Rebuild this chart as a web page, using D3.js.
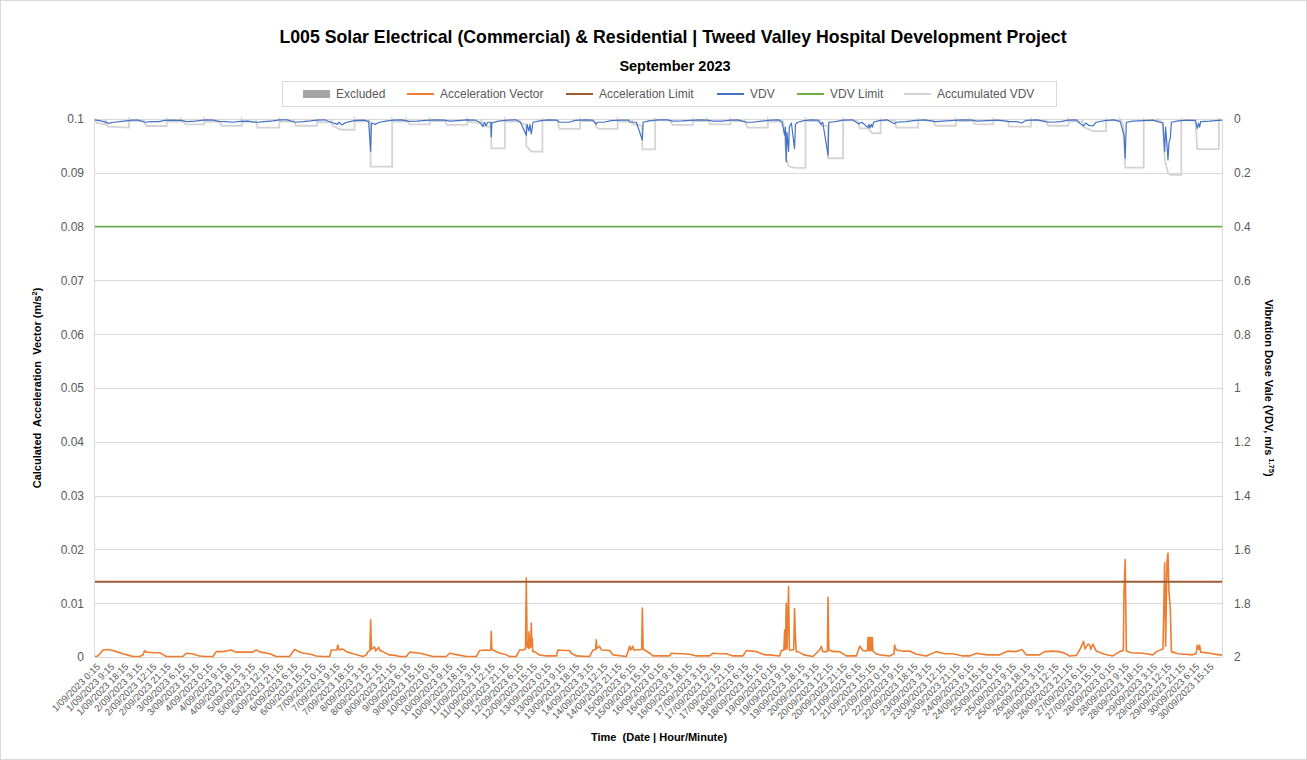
<!DOCTYPE html>
<html><head><meta charset="utf-8">
<script src="https://cdn.jsdelivr.net/npm/d3@7"></script>
<style>
html,body{margin:0;padding:0;background:#fff;}
svg{display:block;font-family:"Liberation Sans",Arial,sans-serif;}
</style></head><body>
<svg id="chart" width="1307" height="760"></svg>
<script>
// ---------------- DATA ----------------
const chartTitle = "L005 Solar Electrical (Commercial) & Residential | Tweed Valley Hospital Development Project";
const chartSubtitle = "September 2023";
const xAxisTitle = "Time  (Date | Hour/Minute)";
const leftAxisTitle = "Calculated  Acceleration  Vector (m/s";
const rightAxisTitle = "Vibration Dose Vale (VDV, m/s ";
const seriesNames = ["Excluded", "Acceleration Vector", "Acceleration Limit", "VDV", "VDV Limit", "Accumulated VDV"];
const leftTicks = [0, 0.01, 0.02, 0.03, 0.04, 0.05, 0.06, 0.07, 0.08, 0.09, 0.1];
const rightTicks = [0, 0.2, 0.4, 0.6, 0.8, 1, 1.2, 1.4, 1.6, 1.8, 2];
const xTickLabels = [
 "1/09/2023 0:15","1/09/2023 9:15","1/09/2023 18:15","2/09/2023 3:15","2/09/2023 12:15","2/09/2023 21:15","3/09/2023 6:15","3/09/2023 15:15",
 "4/09/2023 0:15","4/09/2023 9:15","4/09/2023 18:15","5/09/2023 3:15","5/09/2023 12:15","5/09/2023 21:15","6/09/2023 6:15","6/09/2023 15:15",
 "7/09/2023 0:15","7/09/2023 9:15","7/09/2023 18:15","8/09/2023 3:15","8/09/2023 12:15","8/09/2023 21:15","9/09/2023 6:15","9/09/2023 15:15",
 "10/09/2023 0:15","10/09/2023 9:15","10/09/2023 18:15","11/09/2023 3:15","11/09/2023 12:15","11/09/2023 21:15","12/09/2023 6:15","12/09/2023 15:15",
 "13/09/2023 0:15","13/09/2023 9:15","13/09/2023 18:15","14/09/2023 3:15","14/09/2023 12:15","14/09/2023 21:15","15/09/2023 6:15","15/09/2023 15:15",
 "16/09/2023 0:15","16/09/2023 9:15","16/09/2023 18:15","17/09/2023 3:15","17/09/2023 12:15","17/09/2023 21:15","18/09/2023 6:15","18/09/2023 15:15",
 "19/09/2023 0:15","19/09/2023 9:15","19/09/2023 18:15","20/09/2023 3:15","20/09/2023 12:15","20/09/2023 21:15","21/09/2023 6:15","21/09/2023 15:15",
 "22/09/2023 0:15","22/09/2023 9:15","22/09/2023 18:15","23/09/2023 3:15","23/09/2023 12:15","23/09/2023 21:15","24/09/2023 6:15","24/09/2023 15:15",
 "25/09/2023 0:15","25/09/2023 9:15","25/09/2023 18:15","26/09/2023 3:15","26/09/2023 12:15","26/09/2023 21:15","27/09/2023 6:15","27/09/2023 15:15",
 "28/09/2023 0:15","28/09/2023 9:15","28/09/2023 18:15","29/09/2023 3:15","29/09/2023 12:15","29/09/2023 21:15","30/09/2023 6:15","30/09/2023 15:15"
];
const timeDomainHours = [0.25, 720]; // hours since 1/09/2023 0:00
const accelerationLimit = 0.014;
const vdvLimit = 0.4;

// Acceleration Vector (m/s²): [hours since 1/09 0:00, value]
const accelerationVector = [
 [0.25,0.0001],[2,0.0002],[4,0.0008],[5.3,0.0013],[8,0.0014],[11.7,0.0012],[13.8,0.001],[18,0.0006],[22,0.0003],[24.5,0.0001],
 [28.7,0.0001],[31,0.0004],[31.9,0.0012],[33,0.0009],[38,0.0008],[41.5,0.0008],[44,0.0004],[45.8,0.0001],[52,0.0001],[56.4,0.0001],
 [58.5,0.0007],[62,0.0006],[67,0.0002],[71,0.0001],[75.6,0.0001],[77.7,0.001],[82,0.001],[87.3,0.0013],[90,0.0009],[96,0.0009],
 [101.1,0.0009],[103.2,0.0013],[106,0.0009],[112,0.0006],[116,0.0001],[118.1,0.0001],[124.5,0.0001],[127.7,0.0014],[132,0.0008],[138,0.0005],
 [141.6,0.0002],[145.8,0.0001],[150.1,0.0001],[151.2,0.0013],[154.5,0.0013],[155.4,0.0022],[156,0.0013],[158,0.0015],[159,0.0014],[160.7,0.001],
 [165,0.0006],[171.4,0.0001],[173.5,0.0004],[174.6,0.001],[175.8,0.0012],[176.3,0.0069],[176.8,0.0014],[178.8,0.0019],[179.5,0.0011],[181.5,0.0018],
 [182.2,0.0012],[184.1,0.001],[188,0.0004],[192,0.0003],[194.8,0.0001],[199,0.0001],[201.2,0.0009],[208,0.0007],[216.1,0.0001],[224.6,0.0001],
 [226.7,0.0007],[232,0.0004],[237.4,0.0001],[243.8,0.0001],[245.9,0.0012],[250.2,0.0013],[252.3,0.0012],[253,0.0013],[253.3,0.0048],[253.7,0.0014],
 [258,0.0008],[262.9,0.0004],[265,0.0001],[269.3,0.0001],[271.4,0.0013],[273.6,0.0013],[275.2,0.0015],[275.7,0.0147],[276.2,0.002],[277.1,0.0016],
 [277.4,0.0047],[277.8,0.0017],[278.5,0.0018],[278.9,0.0063],[279.2,0.002],[279.5,0.0035],[279.8,0.001],[281,0.001],[284,0.0004],[288.4,0.0002],
 [294.9,0.0002],[295.9,0.0013],[300,0.0012],[303.4,0.0012],[304.4,0.0007],[307.6,0.0002],[316.1,0.0001],[318.3,0.0013],[320,0.0014],[320.4,0.0032],
 [320.8,0.0016],[322.5,0.002],[323.6,0.0013],[328.9,0.0012],[331,0.0004],[339.6,0.0001],[341.7,0.002],[342.3,0.0013],[343.8,0.002],[344.3,0.0013],
 [346,0.0013],[349.4,0.0014],[349.8,0.0091],[350.3,0.0015],[351.3,0.0013],[354.5,0.0007],[356.6,0.0002],[367.2,0.0002],[368.3,0.0007],[375,0.0006],
 [380,0.0005],[384.3,0.0002],[392.8,0.0002],[394.9,0.0007],[400,0.0006],[403.5,0.0006],[407.7,0.0002],[414.1,0.0002],[416.2,0.0012],[420,0.0011],
 [422.6,0.001],[428,0.0004],[431.1,0.0004],[437.5,0.0002],[438.6,0.0012],[440.2,0.0013],[440.7,0.005],[441.2,0.0014],[441.7,0.01],[442.2,0.0015],
 [443.2,0.0131],[443.7,0.0013],[444.3,0.0013],[445.6,0.0013],[446.5,0.0014],[447,0.009],[447.6,0.0035],[448.1,0.001],[449.2,0.001],[453,0.0004],
 [458.8,0.0001],[463,0.0013],[464.1,0.002],[465,0.001],[468,0.001],[468.4,0.0111],[468.9,0.0013],[472,0.001],[475.8,0.001],[480.1,0.0002],
 [486.5,0.0002],[488.6,0.002],[490.7,0.0012],[492.8,0.0011],[493.6,0.0012],[493.9,0.0036],[494.2,0.0012],[494.5,0.0036],[494.8,0.0012],[495.2,0.0036],
 [495.5,0.0012],[495.8,0.0036],[496.2,0.0012],[496.7,0.0036],[497.1,0.0011],[499.2,0.0006],[501.3,0.0004],[507.7,0.0002],[510.5,0.0006],[510.9,0.0022],
 [512,0.0013],[516,0.0011],[520.5,0.0011],[524.8,0.0005],[531.2,0.0002],[537.5,0.001],[543,0.0006],[548.2,0.0006],[554.5,0.0002],[558.8,0.0002],
 [563.1,0.0007],[570,0.0004],[578,0.0004],[583.3,0.0011],[588.6,0.001],[592.2,0.0014],[595,0.0004],[603.5,0.0004],[606.7,0.001],[612,0.0011],
 [616.3,0.001],[619.5,0.0007],[622.7,0.0002],[627,0.0003],[629.1,0.0013],[631.6,0.0029],[632.5,0.0015],[634.5,0.0024],[635.5,0.0022],[636.2,0.0014],
 [637.6,0.0024],[639.7,0.0011],[645,0.0005],[650.3,0.0002],[654.6,0.001],[657,0.0012],[657.4,0.0122],[658.2,0.0181],[658.9,0.0011],[662,0.0008],
 [669.5,0.0007],[675.9,0.0004],[678.1,0.001],[682.3,0.0015],[683.4,0.0175],[684,0.002],[684.9,0.0178],[685.5,0.0193],[686.1,0.0122],[687,0.009],
 [687.7,0.001],[692,0.0006],[701.4,0.0004],[703.6,0.0007],[704.2,0.0022],[705.2,0.0014],[705.7,0.0022],[706.4,0.0009],[712,0.0007],[718.5,0.0004],[720,0.0004]
];

// VDV (m/s^1.75): [hours, value]
const vdv = [
 [0.25,0.003],[3,0.006],[6,0.01],[9,0.016],[12,0.012],[16,0.01],[20,0.007],[24,0.004],[28,0.004],[32,0.012],
 [36,0.01],[41,0.01],[45,0.005],[50,0.004],[55,0.005],[59,0.01],[64,0.008],[68,0.005],[72,0.003],[76,0.004],
 [79,0.009],[84,0.01],[88,0.012],[93,0.009],[98,0.008],[103,0.013],[108,0.01],[114,0.007],[118,0.003],[123,0.003],
 [128,0.012],[133,0.01],[138,0.007],[142,0.004],[147,0.003],[151,0.012],[155,0.02],[156,0.012],[158,0.022],[160,0.014],
 [163,0.01],[167,0.005],[172,0.004],[175,0.009],[176.3,0.12],[176.8,0.015],[179,0.02],[182,0.012],[186,0.008],[191,0.004],
 [196,0.003],[201,0.009],[206,0.008],[212,0.005],[218,0.003],[223,0.004],[227,0.008],[232,0.006],[238,0.003],[243,0.004],
 [246,0.012],[248,0.028],[249,0.012],[250,0.025],[251,0.012],[253,0.012],[253.3,0.066],[253.7,0.014],[258,0.008],[264,0.004],
 [269,0.003],[272,0.012],[275.7,0.06],[276.2,0.02],[277.4,0.045],[278,0.02],[278.9,0.055],[279.5,0.03],[280,0.012],[285,0.006],
 [290,0.003],[295,0.004],[297,0.012],[303,0.012],[307,0.005],[313,0.003],[318,0.004],[320.4,0.02],[321,0.012],[325,0.012],
 [330,0.006],[336,0.004],[341,0.004],[342,0.012],[346,0.012],[349.8,0.078],[350.3,0.012],[354,0.007],[360,0.003],[366,0.003],
 [369,0.008],[375,0.007],[381,0.005],[386,0.003],[391,0.004],[395,0.008],[401,0.008],[406,0.004],[411,0.003],[416,0.012],
 [420,0.012],[426,0.008],[432,0.004],[437,0.003],[439,0.012],[440.7,0.06],[441.2,0.03],[441.7,0.159],[442.2,0.05],[443.2,0.12],
 [443.7,0.03],[445,0.015],[447,0.11],[447.6,0.02],[449,0.012],[453,0.006],[458,0.003],[462,0.004],[464,0.02],[465,0.012],
 [468.4,0.134],[468.9,0.012],[473,0.01],[478,0.004],[484,0.003],[488,0.018],[490,0.012],[493.9,0.032],[494.5,0.02],[495.2,0.034],
 [496,0.02],[496.7,0.03],[497.5,0.012],[501,0.006],[506,0.003],[510.9,0.018],[512,0.012],[518,0.01],[523,0.006],[530,0.003],
 [537,0.01],[544,0.007],[549,0.005],[554,0.003],[560,0.004],[564,0.008],[570,0.006],[577,0.004],[584,0.01],[589,0.01],
 [592,0.015],[595,0.005],[602,0.003],[607,0.01],[612,0.012],[617,0.01],[622,0.004],[627,0.003],[629,0.015],[631.6,0.026],
 [633,0.015],[635,0.024],[637.6,0.026],[639.7,0.012],[645,0.006],[651,0.003],[655,0.01],[657.4,0.06],[658.2,0.146],[658.9,0.012],
 [663,0.008],[670,0.006],[676,0.004],[679,0.01],[682.3,0.015],[683.4,0.12],[684,0.03],[684.9,0.1],[685.5,0.152],[686.1,0.09],
 [687,0.07],[687.7,0.012],[692,0.007],[698,0.004],[703,0.005],[704.2,0.035],[705,0.015],[705.7,0.03],[706.4,0.01],[712,0.008],
 [718,0.005],[720,0.004]
];

// Accumulated VDV per day (7:00-22:00) / night (22:00-7:00) period: [hours, value]
const accumulatedVdv = [
 [0.25,0],[1.5,0.015],[7,0.02],
 [7,0],[8.5,0.028],[22,0.032],
 [22,0],[23,0.008],[31,0.008],
 [31,0],[33,0.026],[46,0.026],
 [46,0],[47,0.01],[55,0.01],
 [55,0],[58,0.02],[70,0.02],
 [70,0],[71,0.01],[79,0.01],
 [79,0],[81,0.025],[94,0.025],
 [94,0],[95,0.01],[103,0.01],
 [103,0],[104,0.032],[118,0.032],
 [118,0],[119,0.01],[127,0.01],
 [127,0],[128.5,0.025],[142,0.025],
 [142,0],[143,0.012],[151,0.012],
 [151,0],[152,0.025],[155.4,0.035],[158,0.04],[166,0.04],
 [166,0],[167,0.01],[175,0.01],
 [175,0],[176,0.015],[176.3,0.177],[190,0.177],
 [190,0],[191,0.01],[199,0.01],
 [199,0],[201,0.02],[214,0.02],
 [214,0],[215,0.008],[223,0.008],
 [223,0],[225,0.022],[238,0.022],
 [238,0],[239,0.01],[246,0.015],[247,0.015],
 [247,0],[248,0.025],[253.3,0.03],[253.4,0.109],[262,0.109],
 [262,0],[263,0.01],[271,0.01],
 [271,0],[272,0.015],[275.6,0.02],[275.7,0.1],[278.9,0.121],[286,0.121],
 [286,0],[287,0.005],[295,0.005],
 [295,0],[297,0.037],[310,0.037],
 [310,0],[311,0.008],[319,0.008],
 [319,0],[320.4,0.03],[322,0.037],[334,0.037],
 [334,0],[335,0.01],[343,0.01],
 [343,0],[344,0.02],[349.7,0.025],[349.8,0.113],[358,0.113],
 [358,0],[359,0.005],[367,0.005],
 [367,0],[369,0.022],[382,0.022],
 [382,0],[383,0.008],[391,0.008],
 [391,0],[393,0.02],[406,0.02],
 [406,0],[407,0.008],[415,0.008],
 [415,0],[417,0.032],[430,0.032],
 [430,0],[431,0.01],[439,0.01],
 [439,0],[440,0.015],[440.7,0.06],[441.7,0.15],[443.2,0.175],[447,0.182],[454,0.182],
 [454,0],[455,0.008],[463,0.008],
 [463,0],[464.1,0.025],[468.3,0.025],[468.4,0.146],[478,0.146],
 [478,0],[479,0.005],[487,0.005],
 [487,0],[488.6,0.035],[493.9,0.035],[496.7,0.053],[502,0.053],
 [502,0],[503,0.005],[511,0.005],
 [511,0],[512,0.032],[526,0.032],
 [526,0],[527,0.005],[535,0.005],
 [535,0],[537,0.025],[550,0.025],
 [550,0],[551,0.008],[559,0.008],
 [559,0],[563,0.02],[574,0.02],
 [574,0],[575,0.005],[583,0.005],
 [583,0],[584,0.028],[598,0.028],
 [598,0],[599,0.005],[607,0.005],
 [607,0],[609,0.025],[622,0.025],
 [622,0],[623,0.01],[631,0.01],
 [631,0],[631.6,0.03],[637.6,0.045],[646,0.045],
 [646,0],[647,0.005],[655,0.005],
 [655,0],[657,0.02],[658.2,0.181],[670,0.181],
 [670,0],[671,0.005],[679,0.005],
 [679,0],[682,0.015],[683.4,0.15],[685.5,0.2],[687,0.208],[694,0.208],
 [694,0],[695,0.005],[703,0.005],
 [703,0],[704.2,0.112],[718,0.112],
 [718,0],[719,0.003],[720,0.003]
];

// ---------------- LAYOUT / STYLE ----------------
const W = 1307, H = 760;
const plot = {left: 95, right: 1222, top: 119, bottom: 657};
const colors = {
  excluded: "#A5A5A5", accel: "#ED7D31", accelLimit: "#9E5B30",
  vdv: "#4472C4", vdvLimit: "#70AD47", accum: "#D4D4D4",
  grid: "#D9D9D9", tick: "#595959", text: "#000"
};

const svg = d3.select("#chart");
svg.append("rect").attr("x",0.5).attr("y",0.5).attr("width",W-1).attr("height",H-1)
   .attr("fill","#fff").attr("stroke","#D9D9D9");

const x = d3.scaleLinear().domain(timeDomainHours).range([plot.left, plot.right]);
const yL = d3.scaleLinear().domain([0, 0.1]).range([plot.bottom, plot.top]);
const yR = d3.scaleLinear().domain([0, 2]).range([plot.top, plot.bottom]);

// gridlines
svg.append("g").selectAll("line").data(leftTicks).join("line")
  .attr("x1", plot.left).attr("x2", plot.right)
  .attr("y1", d => Math.round(yL(d)) + 0.5).attr("y2", d => Math.round(yL(d)) + 0.5)
  .attr("stroke", colors.grid).attr("stroke-width", 1);
// plot side lines
svg.append("line").attr("x1", plot.left-0.5).attr("x2", plot.left-0.5).attr("y1", plot.top).attr("y2", plot.bottom)
  .attr("stroke", colors.grid);
svg.append("line").attr("x1", plot.right+0.5).attr("x2", plot.right+0.5).attr("y1", plot.top).attr("y2", plot.bottom)
  .attr("stroke", colors.grid);

// axes
const fmtL = d => d === 0 ? "0" : d3.format(".2~f")(d);
const gL = svg.append("g").attr("transform", `translate(${plot.left},0)`)
  .call(d3.axisLeft(yL).tickValues(leftTicks).tickSize(0).tickPadding(11).tickFormat(fmtL));
const gR = svg.append("g").attr("transform", `translate(${plot.right},0)`)
  .call(d3.axisRight(yR).tickValues(rightTicks).tickSize(0).tickPadding(12).tickFormat(d => d3.format("~g")(d)));
[gL, gR].forEach(g => {
  g.select(".domain").remove();
  g.selectAll("text").attr("fill", colors.tick).style("font-size", "12px")
   .style("font-family", '"Liberation Sans", Arial, sans-serif');
});

// x axis
const parseHour = s => {
  const [datePart, timePart] = s.split(" ");
  const day = +datePart.split("/")[0];
  const [hh, mm] = timePart.split(":").map(Number);
  return (day - 1) * 24 + hh + mm / 60;
};
const xTickHours = xTickLabels.map(parseHour);
const gX = svg.append("g").attr("transform", `translate(0,${plot.bottom})`)
  .call(d3.axisBottom(x).tickValues(xTickHours).tickSize(0).tickFormat((d, i) => xTickLabels[i]));
gX.select(".domain").attr("stroke", colors.grid);
gX.selectAll(".tick text")
  .attr("fill", colors.tick).style("font-size", "9.5px")
  .style("font-family", '"Liberation Sans", Arial, sans-serif')
  .attr("text-anchor", "end").attr("dy", "0.35em").attr("y", 0)
  .attr("transform", "translate(3,8) rotate(-45)");

// lines
const lineL = d3.line().x(d => x(d[0])).y(d => yL(d[1]));
const lineR = d3.line().x(d => x(d[0])).y(d => yR(d[1]));

svg.append("path").datum(accelerationVector).attr("d", lineL)
  .attr("fill", "none").attr("stroke", colors.accel).attr("stroke-width", 1.6).attr("stroke-linejoin", "round");
svg.append("path").datum([[timeDomainHours[0], accelerationLimit], [timeDomainHours[1], accelerationLimit]]).attr("d", lineL)
  .attr("fill", "none").attr("stroke", colors.accelLimit).attr("stroke-width", 2);
svg.append("path").datum(accumulatedVdv).attr("d", lineR)
  .attr("fill", "none").attr("stroke", colors.accum).attr("stroke-width", 1.8);
svg.append("path").datum(vdv).attr("d", lineR)
  .attr("fill", "none").attr("stroke", colors.vdv).attr("stroke-width", 1.2).attr("stroke-linejoin", "round");
svg.append("path").datum([[timeDomainHours[0], vdvLimit], [timeDomainHours[1], vdvLimit]]).attr("d", lineR)
  .attr("fill", "none").attr("stroke", colors.vdvLimit).attr("stroke-width", 1.5);

// titles
svg.append("text").attr("x", 673).attr("y", 43).attr("text-anchor", "middle")
  .style("font-size", "17.7px").style("font-weight", "bold").attr("fill", colors.text).text(chartTitle);
svg.append("text").attr("x", 675).attr("y", 71).attr("text-anchor", "middle")
  .style("font-size", "14.5px").style("font-weight", "bold").attr("fill", colors.text).text(chartSubtitle);

svg.append("text").attr("x", 659).attr("y", 741).attr("text-anchor", "middle")
  .style("font-size", "11px").style("font-weight", "bold").attr("fill", colors.text)
  .style("white-space", "pre").text(xAxisTitle);

const lt = svg.append("text").attr("transform", `translate(41,${(plot.top+plot.bottom)/2}) rotate(-90)`)
  .attr("text-anchor", "middle").style("font-size", "11px").style("font-weight", "bold")
  .style("white-space", "pre").attr("fill", colors.text);
lt.append("tspan").text(leftAxisTitle);
lt.append("tspan").attr("dy", -4).style("font-size", "7.5px").text("2");
lt.append("tspan").attr("dy", 4).text(")");

const rt = svg.append("text").attr("transform", `translate(1265,${(plot.top+plot.bottom)/2}) rotate(90)`)
  .attr("text-anchor", "middle").style("font-size", "11px").style("font-weight", "bold")
  .style("white-space", "pre").attr("fill", colors.text);
rt.append("tspan").text(rightAxisTitle);
rt.append("tspan").attr("dy", -4).style("font-size", "7.5px").text("1.75");
rt.append("tspan").attr("dy", 4).text(")");

// legend
const legendBox = {x: 282, y: 81, w: 774, h: 25};
const legendX = [303, 407, 566, 717, 797, 904];
const legendColors = [colors.excluded, colors.accel, colors.accelLimit, colors.vdv, colors.vdvLimit, colors.accum];
const lg = svg.append("g");
lg.append("rect").attr("x", legendBox.x + 0.5).attr("y", legendBox.y + 0.5).attr("width", legendBox.w).attr("height", legendBox.h)
  .attr("fill", "#fff").attr("stroke", colors.grid);
const cy = legendBox.y + legendBox.h / 2 + 0.5;
seriesNames.forEach((name, i) => {
  const g = lg.append("g").attr("transform", `translate(${legendX[i]},${cy})`);
  if (i === 0) {
    g.append("rect").attr("x", 0).attr("y", -4).attr("width", 27).attr("height", 8).attr("fill", legendColors[i]);
  } else {
    g.append("line").attr("x1", 0).attr("x2", 27).attr("y1", 0).attr("y2", 0)
      .attr("stroke", legendColors[i]).attr("stroke-width", 2);
  }
  g.append("text").attr("x", 33).attr("y", 0).attr("dy", "0.35em").style("font-size", "12px")
    .attr("fill", colors.tick).text(name);
});
</script>
</body></html>
